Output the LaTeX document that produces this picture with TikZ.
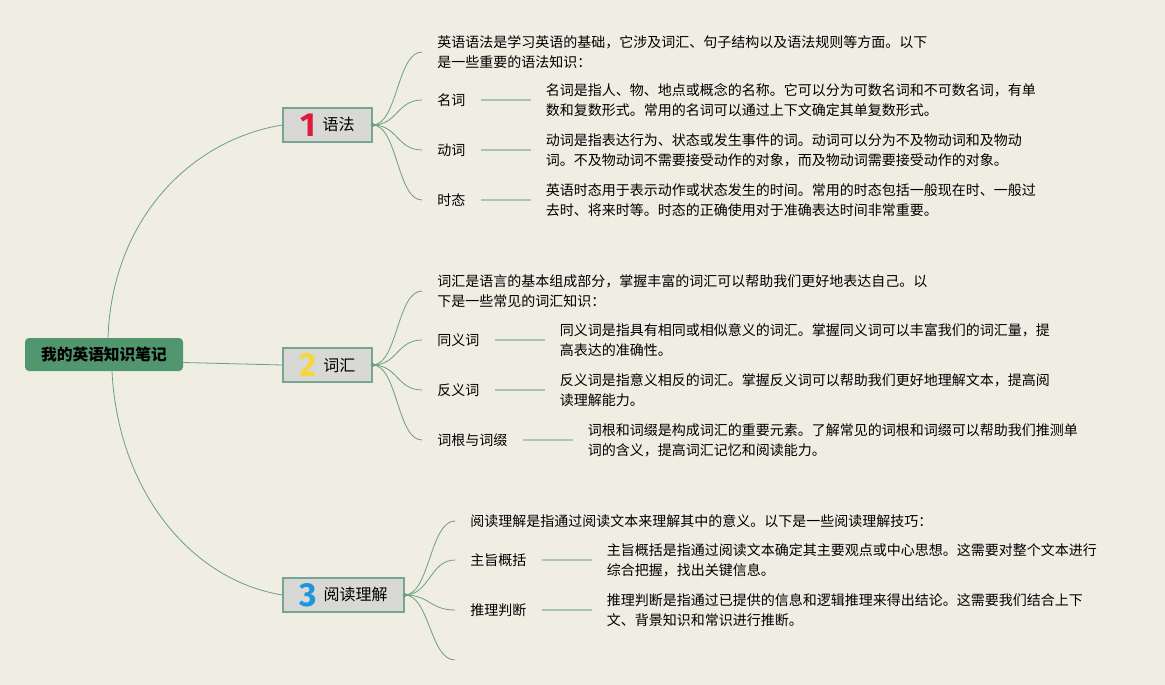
\documentclass[tikz,border=0pt]{standalone}
\usepackage{fontspec}
\setmainfont{Noto Sans CJK SC}
\newfontfamily\numfont{Fira Sans}
\usetikzlibrary{positioning}

\definecolor{bgcol}{RGB}{240,237,227}
\definecolor{rootcol}{RGB}{82,150,112}
\definecolor{catfill}{RGB}{216,216,214}
\definecolor{catdraw}{RGB}{120,165,145}
\definecolor{linkcol}{RGB}{105,160,130}
\definecolor{stubcol}{RGB}{172,196,182}
\definecolor{numred}{RGB}{222,28,58}
\definecolor{numyellow}{RGB}{246,214,58}
\definecolor{numblue}{RGB}{30,150,222}

\newcommand\catnum[3]{{\numfont\bfseries\fontsize{25}{25}\selectfont\color{#1}#2}\hspace{5pt}\raisebox{4pt}{#3}}

\begin{document}
\begin{tikzpicture}[x=0.75pt, y=-0.75pt,
  every node/.style={font=\fontsize{10.5}{15}\selectfont},
  root/.style={fill=rootcol, rounded corners=3pt, minimum width=118.5pt, minimum height=24.75pt, inner sep=0pt, font=\fontsize{11.8}{14}\selectfont\bfseries},
  cat/.style={draw=catdraw, fill=catfill, line width=0.9pt, minimum height=25.5pt, inner sep=0pt, font=\fontsize{12}{14}\selectfont},
  txt/.style={anchor=west, align=left, inner xsep=11.25pt, inner ysep=1pt},
  link/.style={draw=linkcol, line width=0.6pt},
  stub/.style={draw=stubcol, line width=1.5pt}]
% background
\fill[bgcol] (0,0) rectangle (1165,685);
% root and main branches
\node[root] (root) at (104,354.5) {我的英语知识笔记};
\node[cat, minimum width=66.75pt] (cat1) at (327.5,125) {\catnum{numred}{1}{语法}};
\node[cat, minimum width=66.75pt] (cat2) at (327.5,365) {\catnum{numyellow}{2}{词汇}};
\node[cat, minimum width=90.75pt] (cat3) at (343.5,595) {\catnum{numblue}{3}{阅读理解}};
\draw[link] ([xshift=3pt]root.north) .. controls (112,220) and (190,140) .. (cat1.west);
\draw[link] ([yshift=-6pt]root.east) -- (cat2.west);
\draw[link] ([xshift=6pt]root.south) .. controls (118,490) and (190,580) .. (cat3.west);
% 语法
\node[txt] (i1) at (422,52) {英语语法是学习英语的基础，它涉及词汇、句子结构以及语法规则等方面。以下\\是一些重要的语法知识：};
\draw[link] (cat1.east) .. controls +(25,0) and +(-25,0) .. (i1.west);
\foreach \n/\y/\lbl/\txt in {a/100/名词/{名词是指人、物、地点或概念的名称。它可以分为可数名词和不可数名词，有单\\数和复数形式。常用的名词可以通过上下文确定其单复数形式。},
  b/150/动词/{动词是指表达行为、状态或发生事件的词。动词可以分为不及物动词和及物动\\词。不及物动词不需要接受动作的对象，而及物动词需要接受动作的对象。},
  c/200/时态/{英语时态用于表示动作或状态发生的时间。常用的时态包括一般现在时、一般过\\去时、将来时等。时态的正确使用对于准确表达时间非常重要。}} {
  \node[txt] (l1\n) at (422,\y) {\lbl};
  \node[txt, right=37.5pt of l1\n] (d1\n) {\txt};
  \draw[stub] (l1\n) -- (d1\n);
  \draw[link] (cat1.east) .. controls +(25,0) and +(-25,0) .. (l1\n.west);
}
\fill[linkcol] (cat1.east) circle (2);
% 词汇
\node[txt] (i2) at (422,291) {词汇是语言的基本组成部分，掌握丰富的词汇可以帮助我们更好地表达自己。以\\下是一些常见的词汇知识：};
\draw[link] (cat2.east) .. controls +(25,0) and +(-25,0) .. (i2.west);
\foreach \n/\y/\lbl/\txt in {a/340/同义词/{同义词是指具有相同或相似意义的词汇。掌握同义词可以丰富我们的词汇量，提\\高表达的准确性。},
  b/390/反义词/{反义词是指意义相反的词汇。掌握反义词可以帮助我们更好地理解文本，提高阅\\读理解能力。},
  c/440/词根与词缀/{词根和词缀是构成词汇的重要元素。了解常见的词根和词缀可以帮助我们推测单\\词的含义，提高词汇记忆和阅读能力。}} {
  \node[txt] (l2\n) at (422,\y) {\lbl};
  \node[txt, right=37.5pt of l2\n] (d2\n) {\txt};
  \draw[stub] (l2\n) -- (d2\n);
  \draw[link] (cat2.east) .. controls +(25,0) and +(-25,0) .. (l2\n.west);
}
\fill[linkcol] (cat2.east) circle (2);
% 阅读理解
\node[txt] (i3) at (455,521) {阅读理解是指通过阅读文本来理解其中的意义。以下是一些阅读理解技巧：};
\draw[link] (cat3.east) .. controls +(25,0) and +(-25,0) .. (i3.west);
\foreach \n/\y/\lbl/\txt in {a/560/主旨概括/{主旨概括是指通过阅读文本确定其主要观点或中心思想。这需要对整个文本进行\\综合把握，找出关键信息。},
  b/610/推理判断/{推理判断是指通过已提供的信息和逻辑推理来得出结论。这需要我们结合上下\\文、背景知识和常识进行推断。}} {
  \node[txt] (l3\n) at (455,\y) {\lbl};
  \node[txt, right=37.5pt of l3\n] (d3\n) {\txt};
  \draw[stub] (l3\n) -- (d3\n);
  \draw[link] (cat3.east) .. controls +(25,0) and +(-25,0) .. (l3\n.west);
}
\coordinate (e3) at (455,660);
\draw[link] (cat3.east) .. controls +(25,0) and +(-25,0) .. (e3);
\fill[linkcol] (cat3.east) circle (2);
\end{tikzpicture}
\end{document}
